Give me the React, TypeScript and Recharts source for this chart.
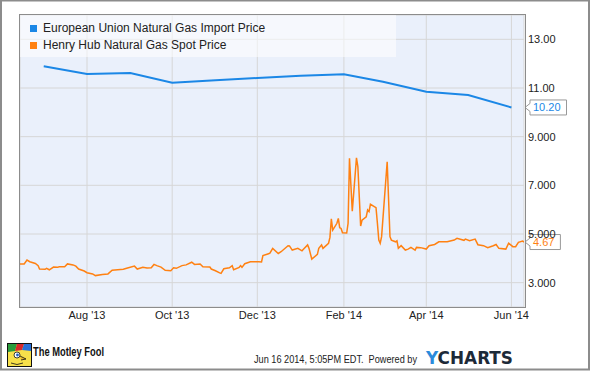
import { LineChart, Line, XAxis, YAxis, CartesianGrid, ReferenceDot } from 'recharts';

const seriesNames = ['European Union Natural Gas Import Price', 'Henry Hub Natural Gas Spot Price'];
const seriesColors = ['#1b87e6', '#ff8112'];

// monthly EU import price
const euDates = [
  '2013-07-01', '2013-08-01', '2013-09-01', '2013-10-01', '2013-11-01', '2013-12-01',
  '2014-01-01', '2014-02-01', '2014-03-01', '2014-04-01', '2014-05-01', '2014-06-01',
];
const euValues = [11.89, 11.58, 11.62, 11.22, 11.32, 11.41, 11.5, 11.56, 11.26, 10.85, 10.71, 10.2];

// Henry Hub spot
const hhDates = [
  '2013-06-14', '2013-06-17', '2013-06-19', '2013-06-21', '2013-06-25', '2013-06-27', '2013-06-28',
  '2013-07-02', '2013-07-03', '2013-07-05', '2013-07-08', '2013-07-11', '2013-07-12', '2013-07-16',
  '2013-07-18', '2013-07-22', '2013-07-24', '2013-07-26', '2013-07-30',
  '2013-08-01', '2013-08-05', '2013-08-07', '2013-08-12', '2013-08-16', '2013-08-19', '2013-08-23',
  '2013-08-27', '2013-08-30',
  '2013-09-04', '2013-09-06', '2013-09-10', '2013-09-13', '2013-09-16', '2013-09-18', '2013-09-20',
  '2013-09-23', '2013-09-26', '2013-09-30',
  '2013-10-02', '2013-10-04', '2013-10-08', '2013-10-11', '2013-10-15', '2013-10-17', '2013-10-21',
  '2013-10-23', '2013-10-28', '2013-10-29',
  '2013-11-01', '2013-11-04', '2013-11-05', '2013-11-07', '2013-11-11', '2013-11-13', '2013-11-14',
  '2013-11-18', '2013-11-19', '2013-11-20', '2013-11-22', '2013-11-26',
  '2013-12-02', '2013-12-04', '2013-12-05', '2013-12-09', '2013-12-10', '2013-12-12', '2013-12-16',
  '2013-12-18', '2013-12-23', '2013-12-24', '2013-12-26', '2013-12-30',
  '2014-01-02', '2014-01-03', '2014-01-06', '2014-01-07', '2014-01-09', '2014-01-13', '2014-01-14',
  '2014-01-16', '2014-01-17', '2014-01-21', '2014-01-22', '2014-01-23', '2014-01-24', '2014-01-27',
  '2014-01-28', '2014-01-29', '2014-01-30', '2014-01-31',
  '2014-02-03', '2014-02-04', '2014-02-05', '2014-02-07', '2014-02-10', '2014-02-11', '2014-02-13',
  '2014-02-14', '2014-02-17', '2014-02-18', '2014-02-19', '2014-02-20', '2014-02-24', '2014-02-25',
  '2014-02-26', '2014-02-27', '2014-02-28',
  '2014-03-04', '2014-03-06', '2014-03-07', '2014-03-10', '2014-03-11', '2014-03-12', '2014-03-14',
  '2014-03-17', '2014-03-19', '2014-03-21', '2014-03-24', '2014-03-25', '2014-03-28',
  '2014-04-01', '2014-04-03', '2014-04-07', '2014-04-10', '2014-04-14', '2014-04-16', '2014-04-21',
  '2014-04-23', '2014-04-28', '2014-04-29',
  '2014-05-02', '2014-05-06', '2014-05-08', '2014-05-12', '2014-05-15', '2014-05-19', '2014-05-21',
  '2014-05-23', '2014-05-28', '2014-05-30',
  '2014-06-02', '2014-06-04', '2014-06-06', '2014-06-09', '2014-06-10',
];
const hhValues = [
  3.77, 3.77, 3.93, 3.86, 3.79, 3.7, 3.56,
  3.55, 3.59, 3.53, 3.64, 3.63, 3.65, 3.65,
  3.77, 3.73, 3.68, 3.56, 3.48,
  3.41, 3.36, 3.29, 3.34, 3.36, 3.51, 3.53,
  3.55, 3.6,
  3.68, 3.56, 3.63, 3.6, 3.61, 3.75, 3.7,
  3.64, 3.51, 3.49,
  3.61, 3.59, 3.7, 3.73, 3.84, 3.75, 3.77,
  3.65, 3.64, 3.56,
  3.49, 3.4, 3.38, 3.57, 3.61, 3.7, 3.53,
  3.63, 3.7, 3.63, 3.78, 3.86,
  3.86, 3.85, 4.11, 4.19, 4.21, 4.41, 4.2,
  4.27, 4.52, 4.51, 4.34, 4.41,
  4.31, 4.37, 4.55, 4.41, 3.97, 4.16, 4.41,
  4.55, 4.41, 4.62, 4.86, 5.62, 5.16, 5.44,
  5.64, 5.26, 5.23, 5.05,
  5.04, 5.44, 8.11, 5.94, 8.13, 7.77, 5.33,
  5.57, 5.71, 5.99, 5.92, 6.22, 6.08, 5.44,
  4.75, 4.62, 4.89,
  7.97, 4.89, 4.75, 4.68, 4.72, 4.41, 4.52,
  4.34, 4.38, 4.45, 4.34, 4.45, 4.44,
  4.38, 4.52, 4.57, 4.68, 4.68, 4.68, 4.75,
  4.82, 4.74, 4.79,
  4.72, 4.79, 4.56, 4.52, 4.44, 4.52, 4.57,
  4.41, 4.38, 4.62,
  4.48, 4.48, 4.66, 4.71, 4.67,
];

const xTickDates = ['2013-08-01', '2013-10-01', '2013-12-01', '2014-02-01', '2014-04-01', '2014-06-01'];
const yTicks = [3, 5, 7, 9, 11, 13];
const xDomainDates = ['2013-06-14', '2014-06-10'];
const yDomain = [2, 14];
const footerStamp = 'Jun 16 2014, 5:05PM EDT.  Powered by';

const MONTHS = ['Jan', 'Feb', 'Mar', 'Apr', 'May', 'Jun', 'Jul', 'Aug', 'Sep', 'Oct', 'Nov', 'Dec'];
const FONT = '"Liberation Sans", Arial, sans-serif';

const ts = (s: string) => new Date(s + 'T00:00:00Z').getTime();

const euData = euDates.map((d, i) => ({ t: ts(d), v: euValues[i] }));
const hhData = hhDates.map((d, i) => ({ t: ts(d), v: hhValues[i] }));

function formatX(t: number) {
  const d = new Date(t);
  return `${MONTHS[d.getUTCMonth()]} '${String(d.getUTCFullYear()).slice(2)}`;
}

// ycharts prints the low ticks with three decimals
function formatY(v: number) {
  return v >= 10 ? v.toFixed(2) : v.toFixed(3);
}

function YTick(props: any) {
  const { y, payload } = props;
  return (
    <text x={528} y={y} dy={4} fontSize={11} fontFamily={FONT} fill="#222" textAnchor="start">
      {formatY(payload.value)}
    </text>
  );
}

function Callout({ cy, label, color }: { cy?: number; label: string; color: string }) {
  if (cy == null) return null;
  const x0 = 525;
  const w = label.length * 6.1 + 6;
  const h = 15;
  const path = `M${x0},${cy} L${x0 + 5},${cy - 4} L${x0 + 5},${cy - h / 2} L${x0 + 5 + w},${cy - h / 2} L${x0 + 5 + w},${cy + h / 2} L${x0 + 5},${cy + h / 2} L${x0 + 5},${cy + 4} Z`;
  return (
    <g>
      <path d={path} fill="#fff" stroke="#999" strokeWidth={1} />
      <text x={x0 + 8} y={cy + 4} fontSize={11} fontFamily={FONT} fill={color}>
        {label}
      </text>
    </g>
  );
}

function FoolIcon() {
  return (
    <g transform="translate(7,343)">
      <rect x={0.5} y={0.5} width={24} height={23} fill="#f7e04a" stroke="#111" />
      <path d="M1,1 L10,1 L8,8 L1,9 Z" fill="#2a9c3c" />
      <path d="M10,1 L17,1 L15,7 L8,8 Z" fill="#d8282a" />
      <path d="M17,1 L24,1 L24,8 L15,7 Z" fill="#2a6fd6" />
      <circle cx={10} cy={12} r={3} fill="#fff" stroke="#111" strokeWidth={0.8} />
      <circle cx={10.5} cy={12} r={1.4} fill="#1f5fbf" />
      <path d="M13,13 L19,16 L14,17" fill="#e9b92d" stroke="#111" strokeWidth={0.8} />
      <path d="M4,20 Q10,23 16,20" fill="none" stroke="#111" strokeWidth={0.8} />
    </g>
  );
}

export default function App() {
  const lastEu = euData[euData.length - 1].v;
  const lastHh = hhData[hhData.length - 1].v;
  const xMax = ts(xDomainDates[1]);

  return (
    <div style={{ position: 'fixed', left: 0, top: 0, width: 590, height: 371, background: '#fff' }}>
      <LineChart width={590} height={371} margin={{ top: 15, right: 16, bottom: 44, left: 20 }}>
        <CartesianGrid stroke="#d6d6d6" fill="#eaf0fb" />
        <XAxis
          type="number"
          dataKey="t"
          domain={xDomainDates.map(ts)}
          ticks={xTickDates.map(ts)}
          tickFormatter={formatX}
          allowDataOverflow
          axisLine={false}
          tickLine={false}
          height={20}
          tick={{ fontSize: 11, fill: '#222', fontFamily: FONT }}
          tickMargin={-2}
        />
        <YAxis
          orientation="right"
          type="number"
          domain={yDomain}
          ticks={yTicks}
          width={50}
          axisLine={false}
          tickLine={false}
          tick={<YTick />}
        />
        <Line
          data={euData}
          dataKey="v"
          stroke={seriesColors[0]}
          strokeWidth={2}
          dot={false}
          isAnimationActive={false}
        />
        <Line
          data={hhData}
          dataKey="v"
          stroke={seriesColors[1]}
          strokeWidth={1.5}
          dot={false}
          isAnimationActive={false}
        />
        <ReferenceDot
          x={xMax}
          y={lastEu}
          r={0}
          shape={(p: any) => <Callout cy={p.cy} label={lastEu.toFixed(2)} color={seriesColors[0]} />}
        />
        <ReferenceDot
          x={xMax}
          y={lastHh}
          r={0}
          shape={(p: any) => <Callout cy={p.cy} label={lastHh.toFixed(2)} color={seriesColors[1]} />}
        />
      </LineChart>

      {/* legend box */}
      <div
        style={{
          position: 'absolute',
          left: 20,
          top: 15,
          width: 376,
          height: 42,
          background: 'rgba(255,255,255,0.55)',
          fontFamily: FONT,
          fontSize: 12,
          color: '#222',
        }}
      >
        {seriesNames.map((name, i) => (
          <div key={name} style={{ position: 'absolute', left: 10, top: 5 + i * 17, height: 16, display: 'flex', alignItems: 'center' }}>
            <span style={{ display: 'inline-block', width: 7, height: 7, background: seriesColors[i], marginRight: 6 }} />
            <span>{name}</span>
          </div>
        ))}
      </div>

      {/* plot frame */}
      <div
        style={{
          position: 'absolute',
          left: 19,
          top: 14,
          width: 505,
          height: 292,
          border: '1px solid #8c8c8c',
          pointerEvents: 'none',
        }}
      />

      <svg width={590} height={371} style={{ position: 'absolute', left: 0, top: 0, pointerEvents: 'none' }}>
        <FoolIcon />
        <text x={33} y={356} fontSize={13} fontWeight="bold" fontFamily={FONT} fill="#111" textLength={71} lengthAdjust="spacingAndGlyphs">
          The Motley Fool
        </text>
        <text x={254} y={363} fontSize={11} fontFamily={FONT} fill="#222" textLength={163} lengthAdjust="spacingAndGlyphs" style={{ whiteSpace: 'pre' }}>
          {footerStamp}
        </text>
        <text x={426} y={364} fontSize={18} fontWeight="bold" fontFamily={'"DejaVu Sans", sans-serif'} fill="#1d2a38" textLength={87} lengthAdjust="spacingAndGlyphs">
          <tspan fill="#2a8bdb">Y</tspan>CHARTS
        </text>
        <rect x={1} y={0.5} width={588} height={369} fill="none" stroke="#8c8c8c" strokeWidth={2} />
      </svg>
    </div>
  );
}
